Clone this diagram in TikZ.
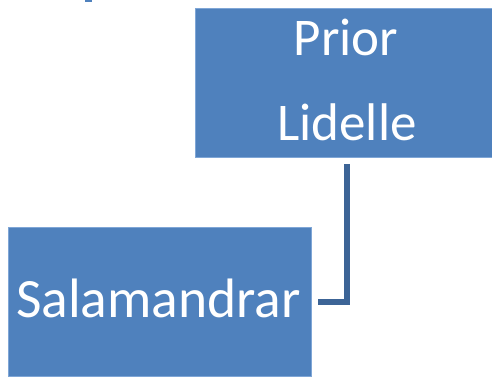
\documentclass[tikz,border=0pt]{standalone}
\usepackage{fontspec}
\setmainfont{Carlito}
\definecolor{boxblue}{HTML}{4F81BD}
\definecolor{boxedge}{HTML}{7FA6D6}
\definecolor{linkblue}{HTML}{3C6496}
\begin{document}
\begin{tikzpicture}[x=1pt,y=-1pt,
  orgbox/.style={draw=boxedge,line width=0.8pt,fill=boxblue,rectangle,inner sep=0pt,anchor=north west},
  lbl/.style={text=white,font=\fontsize{53}{60}\selectfont,anchor=base,inner sep=0pt},
  biglbl/.style={lbl,font=\fontsize{55.5}{60}\selectfont},
  link/.style={draw=linkblue,line width=5.5pt}]
\useasboundingbox (0,0) rectangle (492,376);
\clip (0,0) rectangle (492,376);
\fill[boxblue] (85,-1) rectangle (92,2);
\node[orgbox,minimum width=303pt,minimum height=149pt] (top) at (195,8) {};
\node[orgbox,minimum width=303pt,minimum height=149pt] (bot) at (8,227) {};
\node[lbl] (t1) at (346,55) {Prior};
\node[lbl] (t2) at (347,140) {Lidelle};
\node[biglbl] (t3) at (158.5,317) {Salamandrar};
\coordinate (c1) at ([yshift=-6pt]top.south);
\coordinate (c2) at ([xshift=6pt]bot.east);
\draw[link] (c1) |- (c2);
\end{tikzpicture}
\end{document}
